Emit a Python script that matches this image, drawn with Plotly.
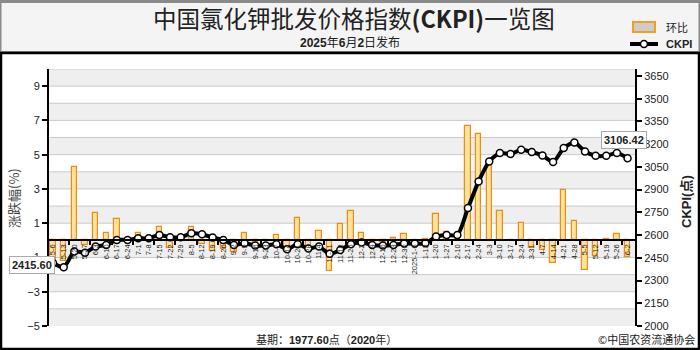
import plotly.graph_objects as go

# ---------------- data ----------------
dates = ["5-6", "5-13", "5-20", "5-27", "6-3", "6-10", "6-17", "6-24", "7-1", "7-8",
         "7-15", "7-22", "7-29", "8-5", "8-12", "8-19", "8-26", "9-2", "9-9", "9-16",
         "9-23", "10-7", "10-14", "10-21", "10-28", "11-4", "11-11", "11-18", "11-25", "12-2",
         "12-9", "12-16", "12-23", "12-30", "2025-1-6", "1-13", "1-20", "1-27", "2-10", "2-17",
         "2-24", "3-3", "3-10", "3-17", "3-24", "3-31", "4-7", "4-14", "4-21", "4-28",
         "5-5", "5-12", "5-19", "5-26", "6-2"]

ckpi = [2415.60, 2388, 2491, 2484, 2524, 2535, 2568, 2568, 2579, 2579,
        2601, 2586, 2586, 2612, 2606, 2584, 2568, 2535, 2546, 2531,
        2531, 2540, 2507, 2540, 2511, 2524, 2476, 2502, 2540, 2551,
        2535, 2531, 2535, 2544, 2544, 2546, 2590, 2601, 2601, 2778,
        2954, 3086, 3141, 3135, 3163, 3148, 3125, 3082, 3174, 3211,
        3152, 3123, 3123, 3141, 3106.42]

change = [-1.2, -1.2, 4.3, -0.3, 1.6, 0.4, 1.25, 0.05, 0.45, -0.05,
          0.75, -0.45, 0.05, 0.8, -0.2, -0.6, -0.5, -0.7, 0.4, -0.4,
          0.0, 0.3, -0.7, 1.3, -0.6, 0.55, -1.8, 0.95, 1.7, 0.4,
          -0.2, -0.1, 0.12, 0.35, 0.0, 0.05, 1.55, 0.5, 0.05, 6.65,
          6.2, 4.45, 1.72, -0.05, 1.0, -0.45, -0.55, -1.3, 2.92, 1.1,
          -1.75, -0.9, 0.08, 0.35, -1.0]

left_ticks = [-5, -3, -1, 1, 3, 5, 7, 9]
right_ticks = [2000, 2150, 2300, 2450, 2600, 2750, 2900, 3050, 3200, 3350, 3500, 3650]

title_text = "中国氯化钾批发价格指数<b>(CKPI)</b>一览图"
subtitle_text = "<b>2025</b>年<b>6</b>月<b>2</b>日发布"
base_text = "基期：<b>1977.60</b>点（<b>2020</b>年）"
source_text = "©中国农资流通协会"
left_title = "涨跌幅(%)"
right_title = "<b>CKPI(点)</b>"
legend_bar = "环比"
legend_line = "<b>CKPI</b>"

# ---------------- layout geometry (pixels) ----------------
FW, FH = 700, 350
L, R, T, B = 49, 635, 69, 326
PW, PH = R - L, B - T


def px(x):
    return (x - L) / PW


def py(y):
    return (B - y) / PH


idx = list(range(len(dates)))
CJK = "Noto Sans CJK SC"
LAT = "Liberation Sans, Arial, Noto Sans CJK SC"

fig = go.Figure()

fig.add_trace(go.Bar(
    x=idx, y=change, width=0.5, yaxis="y",
    marker=dict(color="#fbe49a", line=dict(color="#ec8a1c", width=1.2)),
    showlegend=False, hoverinfo="skip",
))

fig.add_trace(go.Scatter(
    x=idx, y=ckpi, yaxis="y2", mode="lines+markers",
    line=dict(color="black", width=4, shape="spline", smoothing=0.7),
    marker=dict(size=7, color="white", line=dict(color="black", width=1.5)),
    showlegend=False, hoverinfo="skip",
))

shapes = []
# header background and borders
shapes.append(dict(type="rect", xref="paper", yref="paper", x0=px(0), x1=px(FW), y0=py(52), y1=py(0),
                   fillcolor="#f4f4f4", line=dict(width=0), layer="below"))
shapes.append(dict(type="rect", xref="paper", yref="paper", x0=px(0.5), x1=px(FW - 0.5), y0=py(52), y1=py(1.5),
                   fillcolor="rgba(0,0,0,0)", line=dict(color="#8a8a8a", width=2), layer="below"))
shapes.append(dict(type="line", xref="paper", yref="paper", x0=px(0), x1=px(FW), y0=py(1.5), y1=py(1.5),
                   line=dict(color="#8a8a8a", width=3), layer="below"))
# body frame
shapes.append(dict(type="rect", xref="paper", yref="paper", x0=px(1), x1=px(FW - 1), y0=py(FH - 1), y1=py(53),
                   fillcolor="rgba(0,0,0,0)", line=dict(color="black", width=2.5), layer="below"))
# bands
for v in left_ticks:
    shapes.append(dict(type="rect", xref="paper", yref="y", x0=0, x1=1, y0=v, y1=v + 1,
                       fillcolor="#efefef", line=dict(width=0), layer="below"))
for v in range(-4, 11):
    shapes.append(dict(type="line", xref="paper", yref="y", x0=0, x1=1, y0=v, y1=v,
                       line=dict(color="#cacaca", width=1), layer="below"))
# manual legend
shapes.append(dict(type="rect", xref="paper", yref="paper", x0=px(633), x1=px(655), y0=py(32), y1=py(22),
                   fillcolor="#cccccc", line=dict(color="#f0a020", width=2)))
shapes.append(dict(type="line", xref="paper", yref="paper", x0=px(630), x1=px(658), y0=py(44), y1=py(44),
                   line=dict(color="black", width=4)))
shapes.append(dict(type="circle", xref="paper", yref="paper", x0=px(640.5), x1=px(647.5), y0=py(47.5), y1=py(40.5),
                   fillcolor="white", line=dict(color="black", width=1.5)))


def note(text, x, y, size, family, color="#222", xanchor="center", **kw):
    return dict(text=text, x=px(x), y=py(y), xref="paper", yref="paper", showarrow=False,
                xanchor=xanchor, yanchor="middle", font=dict(family=family, size=size, color=color), **kw)


annotations = [
    note(title_text, 354, 18, 23.5, CJK),
    note(subtitle_text, 350, 42.5, 12, "Liberation Sans, " + CJK),
    note(legend_bar, 664, 27, 11, CJK, xanchor="left"),
    note(legend_line, 664, 44, 11, LAT, xanchor="left"),
    note(left_title, 13, 198, 13, CJK, color="#444", textangle=-90),
    note(right_title, 687, 202, 13, LAT, textangle=-90),
    note(base_text, 326, 339, 11, "Liberation Sans, " + CJK),
    note(source_text, 697, 339, 11, CJK, xanchor="right"),
    note("<b>%.2f</b>" % ckpi[0], 32, 265, 11, LAT,
         bgcolor="white", bordercolor="#aaaaaa", borderwidth=1, borderpad=2),
    note("<b>%.2f</b>" % ckpi[-1], 624, 140, 11, LAT,
         bgcolor="white", bordercolor="#aaaaaa", borderwidth=1, borderpad=2),
]

minor_vals = [i + 0.5 for i in range(-1, len(dates), 2)]

fig.update_layout(
    width=FW, height=FH,
    margin=dict(l=L, r=FW - R, t=T, b=FH - B, pad=0),
    paper_bgcolor="white", plot_bgcolor="rgba(0,0,0,0)",
    font=dict(family=LAT, color="#222"),
    showlegend=False,
    bargap=0,
    xaxis=dict(
        range=[-0.38, 54.7], tickmode="array", tickvals=idx, ticktext=dates, tickangle=-90,
        tickfont=dict(size=7.5, color="#222", family=LAT), ticks="",
        anchor="free", position=1 / 3, showline=True, linecolor="black", linewidth=2,
        showgrid=False, zeroline=False,
        minor=dict(tickmode="array", tickvals=minor_vals, ticks="outside", ticklen=4,
                   tickwidth=1.5, tickcolor="black", showgrid=False),
    ),
    yaxis=dict(
        range=[-5, 10], tickmode="array", tickvals=left_ticks, showgrid=False, zeroline=False,
        showline=True, linecolor="black", linewidth=2, ticks="outside", ticklen=5, tickwidth=2,
        tickcolor="black", tickfont=dict(size=11, color="#222", family="Liberation Sans"),
        tickprefix="<b>", ticksuffix="</b>", anchor="x",
    ),
    yaxis2=dict(
        range=[2000, 3696], tickmode="array", tickvals=right_ticks, overlaying="y", side="right",
        showgrid=False, zeroline=False, showline=True, linecolor="black", linewidth=2,
        ticks="outside", ticklen=5, tickwidth=2, tickcolor="black",
        tickfont=dict(size=11, color="#222", family="Liberation Sans"),
        tickprefix="<b>", ticksuffix="</b>", anchor="x",
    ),
    shapes=shapes,
    annotations=annotations,
)

fig.write_html("out.html")
